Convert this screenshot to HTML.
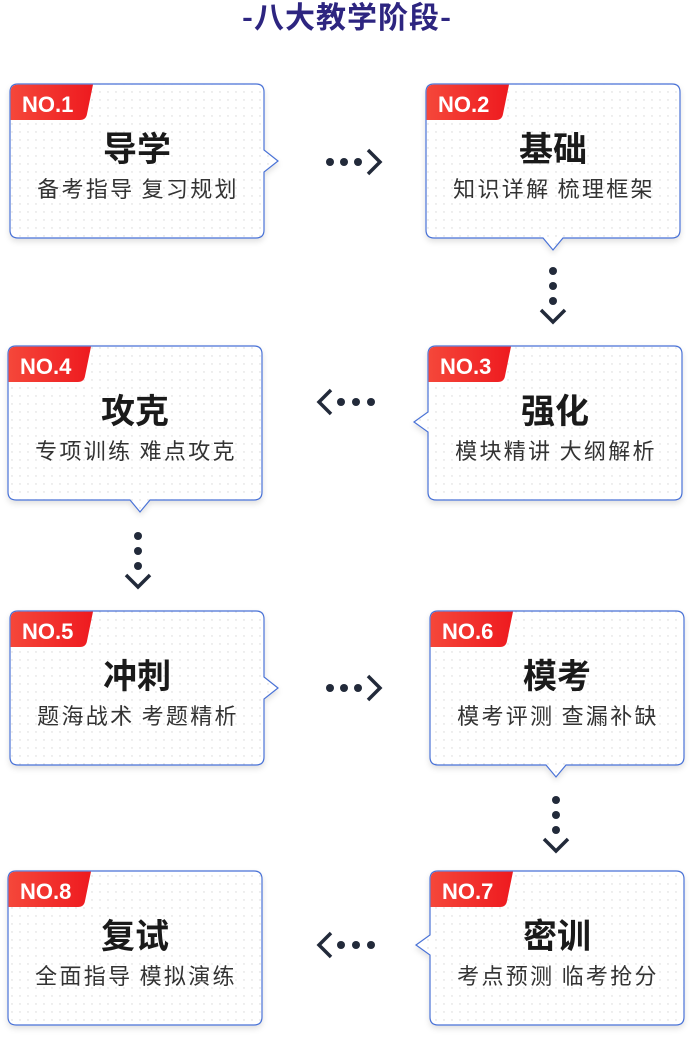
<!DOCTYPE html>
<html><head><meta charset="utf-8"><style>
html,body{margin:0;padding:0;background:#fff;}
svg{display:block;}
text{font-family:"Liberation Sans","Noto Sans CJK SC",sans-serif;}
.t{font-size:34px;font-weight:bold;fill:#1a1a1a;text-anchor:middle;font-family:"Noto Sans CJK SC",sans-serif;}
.s{font-size:22px;fill:#333;text-anchor:middle;font-family:"Noto Sans CJK SC",sans-serif;letter-spacing:2.3px;}
.n{font-size:22px;font-weight:bold;fill:#fff;}
.box{fill:url(#dots);stroke:#4a72d6;stroke-width:1.2;filter:url(#sh);}
.d{fill:#222a3a;}
.c{fill:none;stroke:#222a3a;stroke-width:3.5;}
</style></head><body>
<svg width="694" height="1039" viewBox="0 0 694 1039" xmlns="http://www.w3.org/2000/svg">
<defs>
<pattern id="dots" width="8" height="8" patternUnits="userSpaceOnUse"><rect width="8" height="8" fill="#fff"/><circle cx="4" cy="4" r="0.7" fill="#d6d6d6"/></pattern>
<linearGradient id="rg" x1="0" x2="1"><stop offset="0" stop-color="#f5473a"/><stop offset="1" stop-color="#ee1a1f"/></linearGradient>
<filter id="sh" x="-10%" y="-10%" width="120%" height="130%"><feDropShadow dx="0" dy="3" stdDeviation="3" flood-color="#000" flood-opacity="0.12"/></filter>
</defs>
<text x="347" y="28" text-anchor="middle" style="font-family:'Noto Sans CJK SC',sans-serif;font-size:30px;font-weight:bold;fill:#2d2580;letter-spacing:1px">-八大教学阶段-</text>

<path class="box" d="M18,84 H256 Q264,84 264,92 V150 L278,161 L264,172 V230 Q264,238 256,238 H18 Q10,238 10,230 V92 Q10,84 18,84Z"/>
<path fill="url(#rg)" d="M18,84.6 H93 L87,114 Q86,120 80,120 H10.6 V92 Q10.6,84.6 18,84.6Z"/>
<text class="n" x="22" y="112">NO.1</text>
<text class="t" x="137" y="161">导学</text>
<text class="s" x="138" y="197">备考指导 复习规划</text>

<circle class="d" cx="330" cy="162" r="4"/><circle class="d" cx="344" cy="162" r="4"/><circle class="d" cx="358" cy="162" r="4"/>
<path class="c" d="M368,150 L380,162 L368,174"/>

<path class="box" d="M434,84 H672 Q680,84 680,92 V230 Q680,238 672,238 H563 L553,250 L543,238 H434 Q426,238 426,230 V92 Q426,84 434,84Z"/>
<path fill="url(#rg)" d="M434,84.6 H509 L503,114 Q502,120 496,120 H426.6 V92 Q426.6,84.6 434,84.6Z"/>
<text class="n" x="438" y="112">NO.2</text>
<text class="t" x="553" y="161">基础</text>
<text class="s" x="554" y="197">知识详解 梳理框架</text>

<circle class="d" cx="553" cy="271" r="4"/><circle class="d" cx="553" cy="286" r="4"/><circle class="d" cx="553" cy="301" r="4"/>
<path class="c" d="M541,310 L553,322 L565,310"/>

<path class="box" d="M436,346 H674 Q682,346 682,354 V492 Q682,500 674,500 H436 Q428,500 428,492 V432 L414,422 L428,412 V354 Q428,346 436,346Z"/>
<path fill="url(#rg)" d="M436,346.6 H511 L505,376 Q504,382 498,382 H428.6 V354 Q428.6,346.6 436,346.6Z"/>
<text class="n" x="440" y="374">NO.3</text>
<text class="t" x="555" y="423">强化</text>
<text class="s" x="556" y="459">模块精讲 大纲解析</text>

<path class="c" d="M331,390 L319,402 L331,414"/>
<circle class="d" cx="341" cy="402" r="4"/><circle class="d" cx="356" cy="402" r="4"/><circle class="d" cx="371" cy="402" r="4"/>

<path class="box" d="M16,346 H254 Q262,346 262,354 V492 Q262,500 254,500 H150 L140,512 L130,500 H16 Q8,500 8,492 V354 Q8,346 16,346Z"/>
<path fill="url(#rg)" d="M16,346.6 H91 L85,376 Q84,382 78,382 H8.6 V354 Q8.6,346.6 16,346.6Z"/>
<text class="n" x="20" y="374">NO.4</text>
<text class="t" x="135" y="423">攻克</text>
<text class="s" x="136" y="459">专项训练 难点攻克</text>

<circle class="d" cx="138" cy="536" r="4"/><circle class="d" cx="138" cy="551" r="4"/><circle class="d" cx="138" cy="566" r="4"/>
<path class="c" d="M126,575 L138,587 L150,575"/>

<path class="box" d="M18,611 H256 Q264,611 264,619 V677 L278,688 L264,699 V757 Q264,765 256,765 H18 Q10,765 10,757 V619 Q10,611 18,611Z"/>
<path fill="url(#rg)" d="M18,611.6 H93 L87,641 Q86,647 80,647 H10.6 V619 Q10.6,611.6 18,611.6Z"/>
<text class="n" x="22" y="639">NO.5</text>
<text class="t" x="137" y="688">冲刺</text>
<text class="s" x="138" y="724">题海战术 考题精析</text>

<circle class="d" cx="330" cy="688" r="4"/><circle class="d" cx="344" cy="688" r="4"/><circle class="d" cx="358" cy="688" r="4"/>
<path class="c" d="M368,676 L380,688 L368,700"/>

<path class="box" d="M438,611 H676 Q684,611 684,619 V757 Q684,765 676,765 H566 L556,777 L546,765 H438 Q430,765 430,757 V619 Q430,611 438,611Z"/>
<path fill="url(#rg)" d="M438,611.6 H513 L507,641 Q506,647 500,647 H430.6 V619 Q430.6,611.6 438,611.6Z"/>
<text class="n" x="442" y="639">NO.6</text>
<text class="t" x="557" y="688">模考</text>
<text class="s" x="558" y="724">模考评测 查漏补缺</text>

<circle class="d" cx="556" cy="800" r="4"/><circle class="d" cx="556" cy="815" r="4"/><circle class="d" cx="556" cy="830" r="4"/>
<path class="c" d="M544,839 L556,851 L568,839"/>

<path class="box" d="M438,871 H676 Q684,871 684,879 V1017 Q684,1025 676,1025 H438 Q430,1025 430,1017 V955 L416,945 L430,935 V879 Q430,871 438,871Z"/>
<path fill="url(#rg)" d="M438,871.6 H513 L507,901 Q506,907 500,907 H430.6 V879 Q430.6,871.6 438,871.6Z"/>
<text class="n" x="442" y="899">NO.7</text>
<text class="t" x="557" y="948">密训</text>
<text class="s" x="558" y="984">考点预测 临考抢分</text>

<path class="c" d="M331,933 L319,945 L331,957"/>
<circle class="d" cx="341" cy="945" r="4"/><circle class="d" cx="356" cy="945" r="4"/><circle class="d" cx="371" cy="945" r="4"/>

<path class="box" d="M16,871 H254 Q262,871 262,879 V1017 Q262,1025 254,1025 H16 Q8,1025 8,1017 V879 Q8,871 16,871Z"/>
<path fill="url(#rg)" d="M16,871.6 H91 L85,901 Q84,907 78,907 H8.6 V879 Q8.6,871.6 16,871.6Z"/>
<text class="n" x="20" y="899">NO.8</text>
<text class="t" x="135" y="948">复试</text>
<text class="s" x="136" y="984">全面指导 模拟演练</text>
</svg>
</body></html>
